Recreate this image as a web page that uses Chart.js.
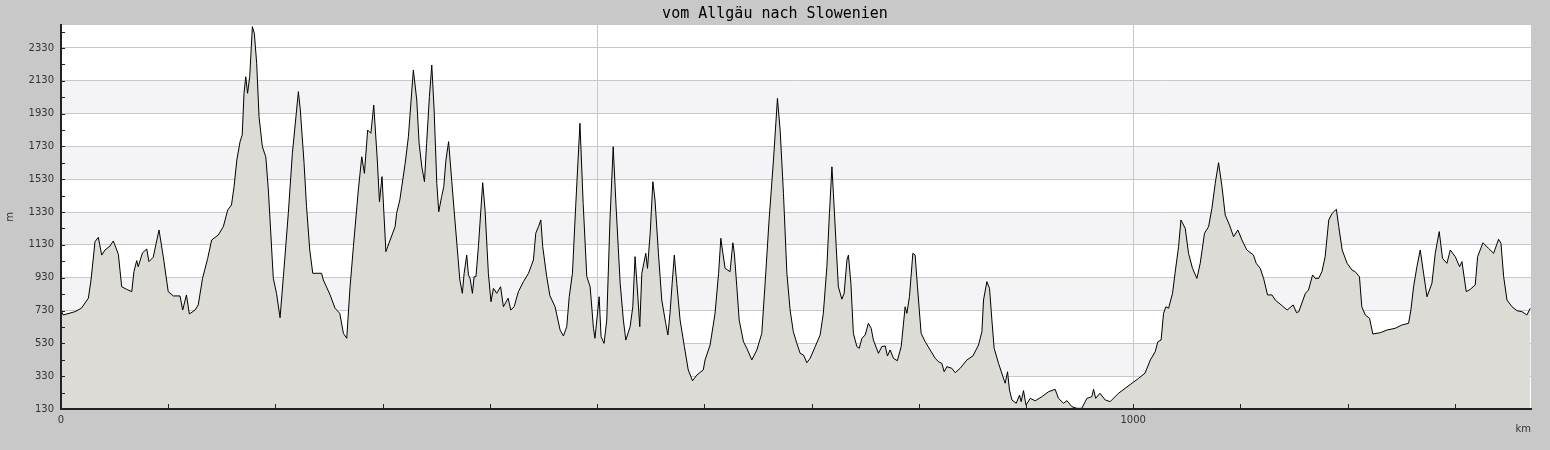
<!DOCTYPE html>
<html>
<head>
<meta charset="utf-8">
<title>vom Allgäu nach Slowenien</title>
<script src="https://cdn.jsdelivr.net/npm/chart.js@4.4.1/dist/chart.umd.min.js"></script>
<style>
  html, body { margin: 0; padding: 0; background: #c8c8c8; }
  #wrap { width: 1550px; height: 450px; }
</style>
</head>
<body>
<div id="wrap"><canvas id="profile" width="1550" height="450"></canvas></div>
<script>
// distance along the route (km) and elevation (m)
var kmValues = [
  0, 2, 13, 19, 25.5, 28, 31.7, 34.8, 38, 41, 45.7, 48.8, 53.5, 56.6, 61.3, 66, 68, 70.6, 72, 76,
  80, 82, 86, 91.4, 95.4, 100, 104.8, 111, 113.5, 117, 119.7, 125, 128, 132, 136.8, 140.5, 146.7, 151.4, 155.5, 159,
  161.4, 164, 167, 169, 170.7, 172.3, 174, 176, 178.5, 180.3, 182.5, 184.7, 187.8, 191, 193.4, 198, 201, 204.3, 207.4, 212,
  215.8, 221.4, 223.2, 226.7, 229, 232, 234.8, 243, 244.7, 251, 255.6, 260, 263.4, 266.5, 269.6, 272.7, 277.3, 280.5, 283, 286,
  289, 291.7, 295, 297, 299.4, 303, 307, 311.6, 313, 316, 321, 324, 328.6, 331.8, 334, 336.5, 339, 341, 343.6, 345.8,
  348, 350.5, 352.3, 355, 357, 359, 361.5, 364.5, 366.6, 369.7, 372, 374.3, 376, 378.4, 380, 381.5, 383.7, 385.3, 387, 389.3,
  393.3, 395.5, 398.6, 401, 403.3, 406.4, 410, 412.6, 417, 419.5, 422.6, 426.6, 431.3, 436, 440.6, 442.8, 445.3, 447.5, 449.3, 453,
  456, 460.8, 465.5, 468.6, 471.7, 474, 477, 480, 484, 487, 490.4, 493.5, 496.6, 498, 501.9, 503.7, 506.5, 509, 512, 515,
  517.7, 521.5, 524.5, 526.8, 530.8, 533.3, 535.4, 538, 539.8, 541.7, 545.4, 547, 549.5, 552, 554, 557.2, 560.3, 564, 566, 568,
  570, 572, 574.3, 577.4, 581.4, 585, 589, 593, 599, 600.7, 605.4, 610, 613.3, 615.4, 617.3, 619.4, 624, 626.6, 628, 630.3,
  632.5, 636.5, 639.6, 644.3, 649, 653.6, 656.7, 660.4, 664.5, 668.2, 670.7, 673.8, 677, 680, 683, 686.3, 689.4, 692.5, 695.6, 698.7,
  703.4, 708, 711, 714.3, 716.7, 719, 720.4, 723, 725, 728.3, 730.4, 733, 734.4, 736.7, 739, 742.3, 744.5, 747, 750, 753,
  755.6, 757.7, 762.4, 765.5, 768.7, 770.8, 773.3, 776.4, 780, 783.6, 787.3, 788.9, 791.3, 794.5, 796.6, 798.8, 802.2, 806, 810.6, 815.3,
  818.4, 821.5, 823.7, 826.2, 830.8, 834, 838.6, 844.9, 850.5, 855.7, 858.9, 860.4, 863.5, 866, 868.2, 870.3, 874.4, 878.5, 880.6, 882.8,
  884.6, 886.9, 890.9, 894, 895.5, 897.7, 900, 904, 908.6, 914.8, 921, 927.2, 930.3, 935, 938.2, 942.8, 947.5, 952, 956.8, 961.4,
  963, 965, 969, 973.9, 978.5, 986.3, 992.5, 998.8, 1005, 1011, 1016, 1020.5, 1023, 1026, 1028.3, 1030.5, 1033, 1036.7, 1039, 1042.3,
  1044.5, 1048.5, 1051.6, 1055.3, 1059.4, 1062.5, 1066.5, 1070.3, 1073.4, 1076.5, 1079.6, 1082.8, 1085.8, 1089.8, 1093.6, 1097.6, 1101.4, 1106, 1112.2, 1114.7,
  1118.5, 1121.6, 1125.3, 1129.4, 1132.5, 1138, 1143.6, 1149.2, 1152.3, 1154.4, 1160.6, 1163.5, 1167.3, 1169.8, 1173, 1176, 1179, 1182.4, 1185.5, 1189.5,
  1191.7, 1194.9, 1199.5, 1204, 1207, 1211, 1213.2, 1216.4, 1220.4, 1223.5, 1230.4, 1236.6, 1244.4, 1250.6, 1256.8, 1259, 1261.5, 1264.6, 1267.7, 1270.8,
  1274, 1278.6, 1281.7, 1285.4, 1288.5, 1292.6, 1295.7, 1300.4, 1304.4, 1306.6, 1310.6, 1314.3, 1319, 1321.2, 1326.2, 1331.4, 1336.1, 1340.8, 1343, 1345.5,
  1348.6, 1353.3, 1357.9, 1362.6, 1367.2, 1370.3
];
var elevValues = [
  733, 703, 723, 744, 805, 916, 1150, 1176, 1068, 1099, 1123, 1154, 1073, 875, 859, 845, 967, 1034, 997, 1082,
  1105, 1028, 1055, 1221, 1058, 845, 819, 819, 733, 825, 709, 733, 764, 926, 1048, 1160, 1190, 1241, 1343, 1373,
  1485, 1647, 1759, 1800, 2054, 2155, 2054, 2155, 2460, 2420, 2237, 1911, 1728, 1667, 1465, 926, 835, 686, 936, 1322,
  1688, 2064, 1952, 1627, 1363, 1099, 957, 957, 916, 825, 744, 713, 591, 561, 875, 1119, 1465, 1667, 1566, 1830,
  1810, 1982, 1647, 1393, 1546, 1089, 1160, 1241, 1322, 1404, 1627, 1789, 2196, 2013, 1749, 1606, 1515, 1749, 2033, 2226,
  1952, 1505, 1332, 1424, 1485, 1647, 1759, 1515, 1343, 1099, 916, 835, 957, 1068, 947, 926, 835, 936, 936, 1119,
  1509, 1343, 957, 784, 865, 835, 875, 753, 805, 733, 753, 845, 906, 957, 1038, 1201, 1241, 1282, 1119, 936,
  820, 753, 611, 575, 632, 814, 957, 1363, 1871, 1383, 936, 875, 622, 561, 814, 571, 530, 672, 1282, 1728,
  1363, 896, 672, 550, 632, 753, 1058, 814, 632, 957, 1079, 987, 1201, 1515, 1404, 1079, 794, 652, 581, 713,
  896, 1068, 896, 672, 510, 368, 302, 337, 368, 429, 520, 713, 957, 1170, 1079, 987, 967, 1143, 1079, 875,
  672, 540, 500, 429, 490, 591, 896, 1282, 1647, 2023, 1830, 1444, 957, 733, 601, 530, 469, 459, 412, 439,
  510, 581, 713, 997, 1322, 1606, 1444, 1119, 875, 799, 835, 1038, 1068, 896, 591, 510, 500, 561, 581, 652,
  622, 550, 469, 510, 514, 453, 490, 439, 424, 510, 753, 713, 814, 1079, 1068, 875, 591, 540, 490, 439,
  418, 408, 357, 388, 378, 351, 378, 429, 453, 520, 601, 794, 906, 865, 672, 500, 408, 327, 287, 357,
  246, 185, 165, 215, 175, 242, 154, 195, 180, 205, 235, 250, 195, 165, 181, 144, 134, 134, 195, 205,
  250, 195, 226, 185, 175, 226, 256, 287, 317, 348, 429, 479, 540, 550, 713, 753, 744, 835, 957, 1119,
  1282, 1231, 1079, 987, 926, 1018, 1201, 1241, 1353, 1505, 1631, 1485, 1312, 1251, 1180, 1221, 1160, 1099, 1068, 1018,
  987, 926, 825, 825, 794, 764, 733, 764, 717, 723, 835, 855, 947, 926, 926, 967, 1058, 1282, 1322, 1347,
  1241, 1099, 1018, 977, 967, 936, 753, 703, 683, 587, 595, 611, 622, 642, 652, 733, 875, 997, 1099, 957,
  814, 896, 1079, 1211, 1048, 1018, 1099, 1058, 997, 1028, 845, 859, 886, 1058, 1143, 1109, 1079, 1164, 1140, 936,
  794, 753, 729, 723, 703, 744
];

// axis ticks
var yMajorTicks = [130, 330, 530, 730, 930, 1130, 1330, 1530, 1730, 1930, 2130, 2330];
var yMinorTicks = [230, 430, 630, 830, 1030, 1230, 1430, 1630, 1830, 2030, 2230, 2430];
var xGridTicks = [500, 1000];
var xLabelTicks = [0, 1000];
var xMinorTicks = [0, 100, 200, 300, 400, 500, 600, 700, 800, 900, 1000, 1100, 1200, 1300];
var shadedBands = [[330, 530], [730, 930], [1130, 1330], [1530, 1730], [1930, 2130]];

var X_MAX = 1371;
var Y_MIN = 130;
var Y_MAX = 2470;

var fillColor = '#dcdbd6';
var bandColor = '#f4f3f6';
var gridColor = '#c8c8c8';
var axisColor = '#222222';
var textColor = '#333333';

var bandsPlugin = {
  id: 'bands',
  beforeDraw: function (chart) {
    var ctx = chart.ctx, area = chart.chartArea, y = chart.scales.y;
    ctx.save();
    ctx.fillStyle = '#ffffff';
    ctx.fillRect(area.left, area.top, area.right - area.left, area.bottom - area.top);
    ctx.fillStyle = bandColor;
    shadedBands.forEach(function (b) {
      var top = y.getPixelForValue(b[1]);
      var bot = y.getPixelForValue(b[0]);
      ctx.fillRect(area.left, top, area.right - area.left, bot - top);
    });
    ctx.restore();
  }
};

// tick marks point into the plot
var innerTicksPlugin = {
  id: 'innerTicks',
  afterDraw: function (chart) {
    var ctx = chart.ctx, area = chart.chartArea;
    var xs = chart.scales.x, ys = chart.scales.y;
    ctx.save();
    ctx.strokeStyle = axisColor;
    ctx.lineWidth = 1;
    ctx.beginPath();
    yMajorTicks.concat(yMinorTicks).forEach(function (v) {
      var py = Math.round(ys.getPixelForValue(v)) + 0.5;
      ctx.moveTo(area.left, py);
      ctx.lineTo(area.left + 4, py);
    });
    xMinorTicks.forEach(function (v) {
      var px = Math.round(xs.getPixelForValue(v)) + 0.5;
      ctx.moveTo(px, area.bottom);
      ctx.lineTo(px, area.bottom - 5);
    });
    ctx.stroke();
    ctx.restore();
  }
};

var points = kmValues.map(function (k, i) { return { x: k, y: elevValues[i] }; });

new Chart(document.getElementById('profile'), {
  type: 'line',
  data: {
    datasets: [{
      label: 'Höhe',
      data: points,
      borderColor: '#000000',
      borderWidth: 1,
      backgroundColor: fillColor,
      fill: 'start',
      pointRadius: 0,
      tension: 0
    }]
  },
  plugins: [bandsPlugin, innerTicksPlugin],
  options: {
    responsive: false,
    animation: false,
    events: [],
    layout: { padding: 0 },
    plugins: {
      legend: { display: false },
      tooltip: { enabled: false },
      title: {
        display: true,
        text: 'vom Allgäu nach Slowenien',
        color: '#000000',
        font: { family: 'DejaVu Sans Mono', size: 15, weight: 'normal' },
        padding: { top: 5, bottom: 2 }
      }
    },
    scales: {
      x: {
        type: 'linear',
        min: 0,
        max: X_MAX,
        afterFit: function (s) { s.height = 41; },
        afterBuildTicks: function (s) {
          s.ticks = xMinorTicks.map(function (v) { return { value: v }; });
        },
        ticks: {
          autoSkip: false,
          maxRotation: 0,
          padding: 5,
          color: textColor,
          font: { family: 'DejaVu Sans', size: 10 },
          callback: function (v) { return xLabelTicks.indexOf(v) >= 0 ? String(v) : ''; }
        },
        grid: {
          drawTicks: false,
          color: function (c) {
            return c.tick && xGridTicks.indexOf(c.tick.value) >= 0 ? gridColor : 'rgba(0,0,0,0)';
          }
        },
        border: { display: true, color: axisColor, width: 2, z: 1 },
        title: {
          display: true,
          text: 'km',
          align: 'end',
          color: textColor,
          font: { family: 'DejaVu Sans', size: 10 },
          padding: { top: 0, bottom: 15 }
        }
      },
      y: {
        type: 'linear',
        min: Y_MIN,
        max: Y_MAX,
        afterFit: function (s) { s.width = 61; },
        afterBuildTicks: function (s) {
          s.ticks = yMajorTicks.concat(yMinorTicks).sort(function (a, b) { return a - b; })
            .map(function (v) { return { value: v }; });
        },
        ticks: {
          autoSkip: false,
          padding: 7,
          color: textColor,
          font: { family: 'DejaVu Sans', size: 10 },
          callback: function (v) { return yMajorTicks.indexOf(v) >= 0 ? String(v) : ''; }
        },
        grid: {
          drawTicks: false,
          color: function (c) {
            return c.tick && yMajorTicks.indexOf(c.tick.value) >= 0 ? gridColor : 'rgba(0,0,0,0)';
          }
        },
        border: { display: true, color: axisColor, width: 2, z: 1 },
        title: {
          display: true,
          text: 'm',
          color: textColor,
          font: { family: 'DejaVu Sans', size: 10 },
          padding: { top: 4, bottom: 0 }
        }
      },
      // empty strip on the right so the title stays centred on the page
      yRight: {
        type: 'linear',
        position: 'right',
        display: true,
        afterFit: function (s) { s.width = 19; },
        ticks: { display: false },
        grid: { display: false, drawTicks: false },
        border: { display: false }
      }
    }
  }
});
</script>
</body>
</html>
